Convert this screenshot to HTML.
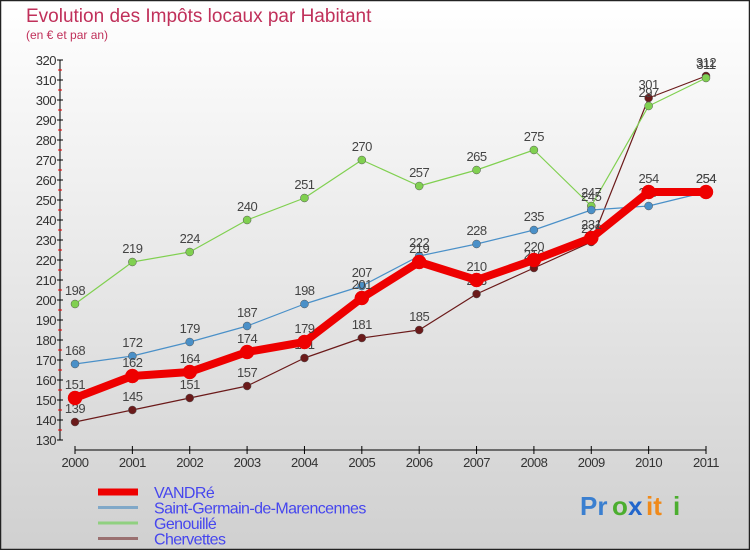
<!DOCTYPE html>
<html><head><meta charset="utf-8"><style>
body{margin:0;}
svg text{font-family:"Liberation Sans",sans-serif;}
</style></head><body>
<svg id="c" width="750" height="550" xmlns="http://www.w3.org/2000/svg">
<defs><linearGradient id="bg" x1="0" y1="0" x2="0" y2="1"><stop offset="0" stop-color="#ffffff"/><stop offset="1" stop-color="#d0d0d0"/></linearGradient></defs>
<rect x="0.5" y="0.5" width="749" height="549" fill="url(#bg)" stroke="#222" stroke-width="1.5"/>
<text x="26" y="22" font-size="19" fill="#c0305a">Evolution des Impôts locaux par Habitant</text>
<text x="26" y="39" font-size="12" fill="#c0305a">(en € et par an)</text>
<g id="axes"></g>
<g id="series"></g>
<g id="legend"></g>
<g font-size="26" font-weight="bold">
<text x="580" y="515" fill="#3a7fd0">Pr</text><text x="612" y="515" fill="#4cae2f">o</text><text x="628" y="515" fill="#2266cc">x</text><text x="646" y="515" fill="#f08a1a">it</text><text x="673" y="515" fill="#4cae2f">i</text>
</g>
</svg>
<script>
const years=["2000","2001","2002","2003","2004","2005","2006","2007","2008","2009","2010","2011"];
const vandre=[151,162,164,174,179,201,219,210,220,231,254,254];
const stgermain=[168,172,179,187,198,207,222,228,235,245,247,254];
const genouille=[198,219,224,240,251,270,257,265,275,247,297,311];
const chervettes=[139,145,151,157,171,181,185,203,216,229,301,312];
const yTicks=[130,140,150,160,170,180,190,200,210,220,230,240,250,260,270,280,290,300,310,320];
const NS="http://www.w3.org/2000/svg";
const x=i=>75+i*(706-75)/(years.length-1);
const y=v=>60+(320-v)*2;
function mk(tag,attrs,parent){const e=document.createElementNS(NS,tag);for(const k in attrs)e.setAttribute(k,attrs[k]);parent.appendChild(e);return e;}
const ax=document.getElementById('axes');
const yl=mk('line',{x1:60,y1:y(320),x2:60,y2:y(130),stroke:'#000'},ax);


yTicks.forEach(v=>{
 mk('line',{x1:57,y1:y(v),x2:63,y2:y(v),stroke:'#000'},ax);
 if(v<320) mk('line',{x1:58,y1:y(v+5),x2:62,y2:y(v+5),stroke:'#e00'},ax);
 const t=mk('text',{x:56,y:y(v)+5,'font-size':13,'text-anchor':'end',fill:'#333','letter-spacing':'-0.5'},ax);
 
 
 t.textContent=v;
});
const xl=mk('line',{x1:x(0),y1:450,x2:x(11),y2:450,stroke:'#000'},ax);


years.forEach((yr,i)=>{
 mk('line',{x1:x(i),y1:446,x2:x(i),y2:454,stroke:'#000'},ax);
 const t=mk('text',{x:x(i),y:467,'font-size':13,'text-anchor':'middle',fill:'#333','letter-spacing':'-0.5'},ax);
 
 
 t.textContent=yr;
});
const sg=document.getElementById('series');
const series=[
 {name:'chervettes',data:chervettes,color:'#6b1a1a',w:1.2,r:4,label:'Chervettes',lc:'#9a7070'},
 {name:'genouille',data:genouille,color:'#80d050',w:1.2,r:4,label:'Genouillé',lc:'#90d080'},
 {name:'saint-germain',data:stgermain,color:'#4a90c8',w:1.2,r:4,label:'Saint-Germain-de-Marencennes',lc:'#80a8c8'},
 {name:'vandre',data:vandre,color:'#ee0000',w:8,r:7,label:'VANDRé',lc:'#ee0000'}
];
series.forEach(s=>{
 const g=mk('g',{},sg);
 
 
 const p=mk('polyline',{points:s.data.map((v,i)=>x(i)+','+y(v)).join(' '),fill:'none',stroke:s.color,'stroke-width':s.w,'stroke-linejoin':'round'},g);
 
 
 s.data.forEach((v,i)=>{
  const c=mk('circle',{cx:x(i),cy:y(v),r:s.r,fill:s.color,stroke:s.w>2?'#e00':'#555','stroke-width':0.5},g);
  
  
  const t=mk('text',{x:x(i),y:y(v)-9,'font-size':13,'text-anchor':'middle',fill:'#444','letter-spacing':'-0.5'},g);
  
  
  t.textContent=v;
 });
});
const lg=document.getElementById('legend');
[series[3],series[2],series[1],series[0]].forEach((s,k)=>{
 const yy=492+k*15.5;
 const g=mk('g',{},lg);
 
 
 mk('line',{x1:98,y1:yy,x2:138,y2:yy,stroke:s.lc,'stroke-width':s.w>2?7:3},g);
 const t=mk('text',{x:154,y:yy+6,'font-size':16,fill:'#4646ee','letter-spacing':'-0.6'},g);
 t.textContent=s.label;
});
</script>
</body></html>
